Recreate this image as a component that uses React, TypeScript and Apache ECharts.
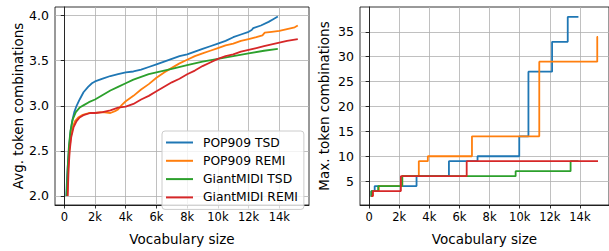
import React, { useEffect, useRef } from "react";
import * as echarts from "echarts";

const seriesNames = ["POP909 TSD", "POP909 REMI", "GiantMIDI TSD", "GiantMIDI REMI"];
const colors = ["#1f77b4", "#ff7f0e", "#2ca02c", "#d62728"];

const xTickValues = [0, 2000, 4000, 6000, 8000, 10000, 12000, 14000];
const avgTickValues = [2.0, 2.5, 3.0, 3.5, 4.0];
const maxTickValues = [5, 10, 15, 20, 25, 30, 35];

// Avg. token combinations vs vocabulary size
const avgPop909Tsd = [[130,2.0],[180,2.2],[250,2.4],[320,2.55],[400,2.7],[500,2.82],[650,2.93],[800,3.0],[1000,3.07],[1250,3.15],[1550,3.21],[1800,3.25],[2000,3.27],[2500,3.3],[3000,3.33],[3500,3.35],[4000,3.37],[4500,3.38],[5000,3.4],[5500,3.43],[6000,3.46],[6500,3.49],[7000,3.52],[7500,3.55],[8000,3.57],[8500,3.6],[9000,3.63],[9500,3.66],[10000,3.69],[10500,3.72],[11000,3.76],[11500,3.79],[12000,3.82],[12200,3.84],[12300,3.86],[12800,3.89],[13300,3.93],[13600,3.96],[13900,3.99]];
const avgPop909Remi = [[200,2.0],[260,2.3],[330,2.5],[420,2.65],[550,2.76],[700,2.83],[900,2.87],[1200,2.9],[1600,2.92],[2000,2.92],[2500,2.93],[3000,2.92],[3300,2.94],[3500,2.96],[3750,3.01],[4000,3.05],[4500,3.11],[5000,3.18],[5500,3.24],[6000,3.31],[6500,3.37],[7000,3.42],[7500,3.47],[8000,3.51],[8500,3.55],[9000,3.58],[9500,3.61],[10000,3.64],[10500,3.67],[11000,3.69],[11500,3.72],[12000,3.74],[12500,3.76],[12900,3.78],[13050,3.81],[13500,3.82],[14000,3.83],[14500,3.85],[15000,3.87],[15200,3.89]];
const avgGiantTsd = [[150,2.0],[220,2.3],[300,2.55],[400,2.72],[550,2.85],[750,2.93],[1000,2.98],[1300,3.01],[1600,3.04],[2000,3.07],[2500,3.12],[3000,3.17],[3500,3.21],[4000,3.25],[4500,3.29],[5000,3.32],[5500,3.35],[6000,3.37],[7000,3.41],[8000,3.45],[9000,3.49],[10000,3.52],[11000,3.55],[12000,3.58],[13000,3.61],[13900,3.63]];
const avgGiantRemi = [[220,2.0],[280,2.3],[350,2.5],[450,2.65],[600,2.76],[800,2.83],[1000,2.87],[1300,2.9],[1700,2.92],[2000,2.92],[2500,2.93],[3000,2.95],[3500,2.98],[4000,2.99],[4500,3.02],[5000,3.07],[5500,3.11],[6000,3.16],[6500,3.21],[7000,3.26],[7500,3.3],[8000,3.35],[8500,3.39],[9000,3.44],[9500,3.48],[10000,3.52],[10500,3.55],[11000,3.57],[11500,3.6],[12000,3.62],[12500,3.64],[13000,3.66],[13500,3.68],[14000,3.7],[14500,3.72],[15200,3.74]];

// Max. token combinations (step changes: [vocab size, new value])
const maxPop909Tsd = [[100,2],[150,3],[370,4],[3150,6],[5300,9],[7200,10],[9970,14],[10580,27],[12150,33],[13190,38],[13900,38]];
const maxPop909Remi = [[150,2],[250,3],[650,4],[2200,6],[3300,9],[3900,10],[6830,14],[11300,29],[15150,34],[15200,34]];
const maxGiantTsd = [[100,2],[150,3],[600,4],[2200,6],[9730,7],[13380,9],[13900,9]];
const maxGiantRemi = [[150,2],[250,3],[2110,6],[6480,9],[15200,9]];

const avgData = [avgPop909Tsd, avgPop909Remi, avgGiantTsd, avgGiantRemi];
const maxData = [maxPop909Tsd, maxPop909Remi, maxGiantTsd, maxGiantRemi];

const FONT = "DejaVu Sans";
const NAME_SIZE = 13.5;
const XTICK_SIZE = 11.5;
const YTICK_SIZE = 12.5;

function xAxisCfg(gridIndex: number) {
  return {
    type: "value",
    gridIndex,
    min: -605,
    max: 15930,
    name: "Vocabulary size",
    nameLocation: "middle",
    nameGap: 27,
    nameTextStyle: { fontFamily: FONT, fontSize: NAME_SIZE, color: "#000" },
    axisLine: { show: true, lineStyle: { color: "#000", width: 0.8 } },
    axisTick: { show: true, inside: false, length: 3.5, lineStyle: { color: "#000", width: 0.8 }, customValues: xTickValues },
    axisLabel: {
      customValues: xTickValues,
      margin: 6,
      fontFamily: FONT,
      fontSize: XTICK_SIZE,
      color: "#000",
      formatter: (v: number) => (v === 0 ? "0" : `${Math.round(v / 1000)}k`),
    },
    splitLine: { show: true, lineStyle: { color: "#b0b0b0", width: 0.8 } },
  };
}

export default function App() {
  const ref = useRef<HTMLDivElement>(null);
  useEffect(() => {
    if (!ref.current) return;
    const chart = echarts.init(ref.current, undefined, { renderer: "svg" });
    const series: any[] = [];
    seriesNames.forEach((name, i) => {
      series.push({
        type: "line",
        name,
        xAxisIndex: 0,
        yAxisIndex: 0,
        data: avgData[i],
        showSymbol: false,
        symbol: "none",
        lineStyle: { color: colors[i], width: 1.8 },
        itemStyle: { color: colors[i] },
      });
    });
    seriesNames.forEach((name, i) => {
      series.push({
        type: "line",
        name,
        xAxisIndex: 1,
        yAxisIndex: 1,
        data: maxData[i],
        step: "end",
        showSymbol: false,
        symbol: "none",
        lineStyle: { color: colors[i], width: 1.8 },
        itemStyle: { color: colors[i] },
      });
    });
    chart.setOption({
      animation: false,
      backgroundColor: "#fff",
      textStyle: { fontFamily: FONT },
      grid: [
        { left: 55, top: 7, width: 254, height: 209, show: true, borderColor: "#000", borderWidth: 0.8, backgroundColor: "transparent" },
        { left: 360, top: 7, width: 254, height: 209, show: true, borderColor: "#000", borderWidth: 0.8, backgroundColor: "transparent" },
      ],
      xAxis: [xAxisCfg(0), xAxisCfg(1)],
      yAxis: [
        {
          type: "value",
          gridIndex: 0,
          min: 1.9,
          max: 4.095,
          name: "Avg. token combinations",
          nameLocation: "middle",
          nameGap: 30,
          nameTextStyle: { fontFamily: FONT, fontSize: NAME_SIZE, color: "#000" },
          axisLine: { show: true, lineStyle: { color: "#000", width: 0.8 } },
          axisTick: { show: true, inside: false, length: 3.5, lineStyle: { color: "#000", width: 0.8 }, customValues: avgTickValues },
          axisLabel: { customValues: avgTickValues, margin: 6, fontFamily: FONT, fontSize: YTICK_SIZE, color: "#000", formatter: (v: number) => v.toFixed(1) },
          splitLine: { show: true, lineStyle: { color: "#b0b0b0", width: 0.8 } },
        },
        {
          type: "value",
          gridIndex: 1,
          min: 0.2,
          max: 40,
          name: "Max. token combinations",
          nameLocation: "middle",
          nameGap: 29,
          nameTextStyle: { fontFamily: FONT, fontSize: NAME_SIZE, color: "#000" },
          axisLine: { show: true, lineStyle: { color: "#000", width: 0.8 } },
          axisTick: { show: true, inside: false, length: 3.5, lineStyle: { color: "#000", width: 0.8 }, customValues: maxTickValues },
          axisLabel: { customValues: maxTickValues, margin: 6, fontFamily: FONT, fontSize: YTICK_SIZE, color: "#000", formatter: (v: number) => `${v}` },
          splitLine: { show: true, lineStyle: { color: "#b0b0b0", width: 0.8 } },
        },
      ],
      legend: {
        data: seriesNames,
        orient: "vertical",
        left: 162,
        top: 131,
        padding: [4.5, 6, 5, 4],
        itemGap: 4.3,
        itemWidth: 27,
        itemHeight: 2,
        icon: "rect",
        backgroundColor: "rgba(255,255,255,0.8)",
        borderColor: "#cccccc",
        borderWidth: 1,
        borderRadius: 3,
        textStyle: { fontFamily: FONT, fontSize: 12.3, color: "#000", lineHeight: 14, padding: [0, 0, 0, 5] },
      },
      series,
    });
    return () => chart.dispose();
  }, []);
  return <div ref={ref} style={{ position: "absolute", left: 0, top: 0, width: 609, height: 251 }} />;
}
